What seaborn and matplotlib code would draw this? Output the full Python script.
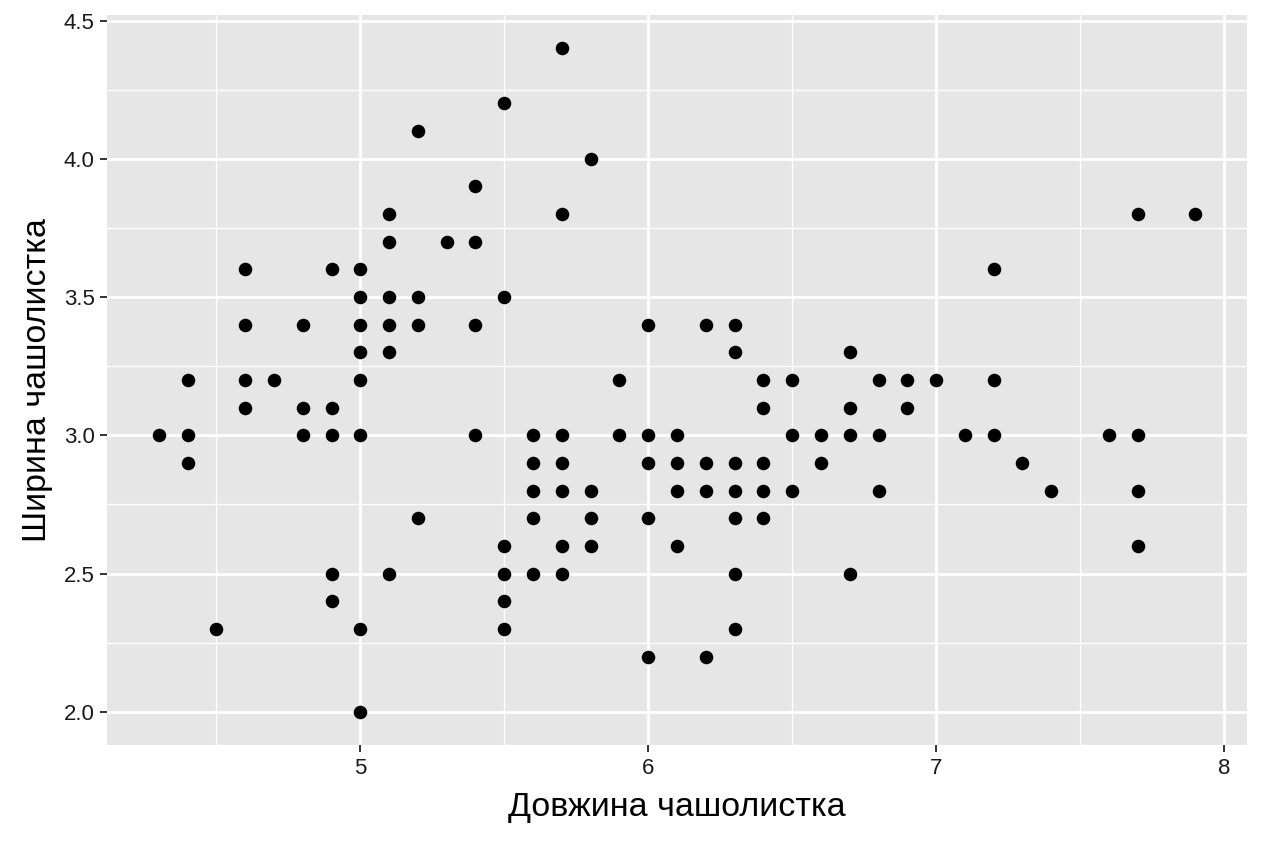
import numpy as np
import matplotlib
matplotlib.use("Agg")
import matplotlib.pyplot as plt
import pandas as pd
import seaborn as sns

# точки (довжина, ширина чашолистка)
dovzhyna = [4.3,
            4.4, 4.4, 4.4,
            4.5,
            4.6, 4.6, 4.6, 4.6,
            4.7,
            4.8, 4.8, 4.8,
            4.9, 4.9, 4.9, 4.9, 4.9,
            5.0, 5.0, 5.0, 5.0, 5.0, 5.0, 5.0, 5.0,
            5.1, 5.1, 5.1, 5.1, 5.1, 5.1,
            5.2, 5.2, 5.2, 5.2,
            5.3,
            5.4, 5.4, 5.4, 5.4,
            5.5, 5.5, 5.5, 5.5, 5.5, 5.5,
            5.6, 5.6, 5.6, 5.6, 5.6,
            5.7, 5.7, 5.7, 5.7, 5.7, 5.7, 5.7,
            5.8, 5.8, 5.8, 5.8,
            5.9, 5.9,
            6.0, 6.0, 6.0, 6.0, 6.0,
            6.1, 6.1, 6.1, 6.1,
            6.2, 6.2, 6.2, 6.2,
            6.3, 6.3, 6.3, 6.3, 6.3, 6.3, 6.3,
            6.4, 6.4, 6.4, 6.4, 6.4,
            6.5, 6.5, 6.5,
            6.6, 6.6,
            6.7, 6.7, 6.7, 6.7,
            6.8, 6.8, 6.8,
            6.9, 6.9,
            7.0,
            7.1,
            7.2, 7.2, 7.2,
            7.3,
            7.4,
            7.6,
            7.7, 7.7, 7.7, 7.7,
            7.9]
shyryna = [3.0,
           3.2, 3.0, 2.9,
           2.3,
           3.6, 3.4, 3.2, 3.1,
           3.2,
           3.4, 3.1, 3.0,
           3.6, 3.1, 3.0, 2.5, 2.4,
           3.6, 3.5, 3.4, 3.3, 3.2, 3.0, 2.3, 2.0,
           3.8, 3.7, 3.5, 3.4, 3.3, 2.5,
           4.1, 3.5, 3.4, 2.7,
           3.7,
           3.9, 3.7, 3.4, 3.0,
           4.2, 3.5, 2.6, 2.5, 2.4, 2.3,
           3.0, 2.9, 2.8, 2.7, 2.5,
           4.4, 3.8, 3.0, 2.9, 2.8, 2.6, 2.5,
           4.0, 2.8, 2.7, 2.6,
           3.2, 3.0,
           3.4, 3.0, 2.9, 2.7, 2.2,
           3.0, 2.9, 2.8, 2.6,
           3.4, 2.9, 2.8, 2.2,
           3.4, 3.3, 2.9, 2.8, 2.7, 2.5, 2.3,
           3.2, 3.1, 2.9, 2.8, 2.7,
           3.2, 3.0, 2.8,
           3.0, 2.9,
           3.3, 3.1, 3.0, 2.5,
           3.2, 3.0, 2.8,
           3.2, 3.1,
           3.2,
           3.0,
           3.6, 3.2, 3.0,
           2.9,
           2.8,
           3.0,
           3.8, 3.0, 2.8, 2.6,
           3.8]

x_ticks = [5, 6, 7, 8]
y_ticks = [2.0, 2.5, 3.0, 3.5, 4.0, 4.5]

df = pd.DataFrame({"x": dovzhyna, "y": shyryna})

sns.set_theme(style="darkgrid", rc={"axes.facecolor": "#E6E6E6",
                                    "grid.color": "white"})
plt.rcParams["font.family"] = ["Liberation Sans", "DejaVu Sans"]

fig = plt.figure(figsize=(12.64, 8.43), dpi=100)
ax = fig.add_axes([107 / 1264, 98 / 843, 1140 / 1264, 730 / 843])

sns.scatterplot(data=df, x="x", y="y", ax=ax, color="black",
                s=95, edgecolor=None, linewidth=0, zorder=3)

# межі як у ggplot (розширення на 5%)
xr = max(dovzhyna) - min(dovzhyna)
yr = max(shyryna) - min(shyryna)
ax.set_xlim(min(dovzhyna) - 0.05 * xr, max(dovzhyna) + 0.05 * xr)
ax.set_ylim(min(shyryna) - 0.05 * yr, max(shyryna) + 0.05 * yr)

ax.set_xticks(x_ticks)
ax.set_xticklabels([str(t) for t in x_ticks])
ax.set_yticks(y_ticks)
ax.set_yticklabels([f"{t:.1f}" for t in y_ticks])
ax.set_xticks([4.5, 5.5, 6.5, 7.5], minor=True)
ax.set_yticks([2.25, 2.75, 3.25, 3.75, 4.25], minor=True)

ax.grid(which="major", color="white", linewidth=2.0)
ax.grid(which="minor", color="white", linewidth=1.0)
ax.set_axisbelow(True)
for sp in ax.spines.values():
    sp.set_visible(False)

ax.tick_params(axis="both", which="major", length=5, width=1.3,
               color="#222222", labelsize=16, labelcolor="#1A1A1A",
               direction="out", bottom=True, left=True, pad=4)
ax.tick_params(axis="both", which="minor", length=0)

ax.set_xlabel("Довжина чашолистка", fontsize=24.5, color="black", labelpad=10)
ax.set_ylabel("Ширина чашолистка", fontsize=24.5, color="black", labelpad=8)

fig.savefig("out.png", dpi=100, facecolor="white")
